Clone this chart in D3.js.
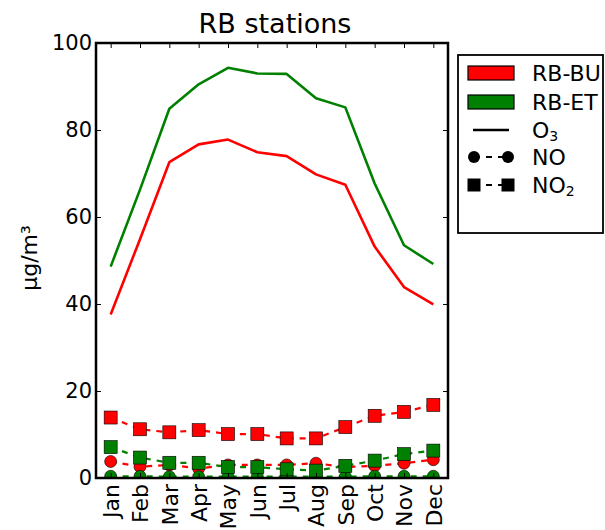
<!DOCTYPE html>
<html>
<head>
<meta charset="utf-8">
<script src="https://cdn.jsdelivr.net/npm/d3@7"></script>
<style>
  html, body { margin: 0; padding: 0; background: #fff; }
  svg { display: block; font-family: "DejaVu Sans", sans-serif; }
</style>
</head>
<body>
<svg id="chart" width="605" height="530"></svg>
<script>
// Monthly mean concentrations at the two RB stations (µg/m³)
const months = ["Jan","Feb","Mar","Apr","May","Jun","Jul","Aug","Sep","Oct","Nov","Dec"];
const yTicks = [0, 20, 40, 60, 80, 100];

const o3BU  = [37.6, 54.9, 72.6, 76.7, 77.8, 74.9, 74.0, 69.8, 67.4, 53.2, 43.9, 39.9];
const o3ET  = [48.6, 66.3, 84.9, 90.5, 94.3, 93.0, 92.9, 87.3, 85.2, 67.7, 53.5, 49.2];
const noBU  = [3.8, 2.6, 3.0, 2.2, 3.0, 3.0, 3.0, 3.4, 2.5, 2.8, 3.4, 4.2];
const noET  = [0.4, 0.4, 0.3, 0.3, 0.3, 0.3, 0.3, 0.3, 0.3, 0.4, 0.4, 0.4];
const no2BU = [13.9, 11.2, 10.5, 11.0, 10.1, 10.1, 9.1, 9.1, 11.7, 14.3, 15.2, 16.8];
const no2ET = [7.1, 4.7, 3.5, 3.5, 2.5, 2.5, 2.0, 1.7, 2.8, 4.0, 5.5, 6.3];

const stations = [
  { name: "RB-BU", color: "#ff0000", o3: o3BU, no: noBU, no2: no2BU },
  { name: "RB-ET", color: "#008000", o3: o3ET, no: noET, no2: no2ET }
];

const plot = { left: 96, right: 448, top: 43, bottom: 478 };
const svg = d3.select("#chart");

const x = d3.scalePoint().domain(months).range([plot.left, plot.right]).padding(0.5);
const y = d3.scaleLinear().domain([0, 100]).range([plot.bottom, plot.top]);

svg.append("defs").append("clipPath").attr("id", "plot-clip")
  .append("rect")
  .attr("x", plot.left).attr("y", plot.top)
  .attr("width", plot.right - plot.left).attr("height", plot.bottom - plot.top);

const g = svg.append("g").attr("clip-path", "url(#plot-clip)");

const line = d3.line().x((d, i) => x(months[i])).y(d => y(d));

stations.forEach(s => {
  // O3: solid line
  g.append("path").attr("d", line(s.o3))
    .attr("fill", "none").attr("stroke", s.color).attr("stroke-width", 2.6)
    .attr("stroke-linejoin", "round");

  // NO: dashed line with circles
  g.append("path").attr("d", line(s.no))
    .attr("fill", "none").attr("stroke", s.color).attr("stroke-width", 2.2)
    .attr("stroke-dasharray", "6,6");
  g.selectAll(null).data(s.no).enter().append("circle")
    .attr("cx", (d, i) => x(months[i])).attr("cy", d => y(d)).attr("r", 6)
    .attr("fill", s.color).attr("stroke", "#000").attr("stroke-width", 0.6);

  // NO2: dashed line with squares
  g.append("path").attr("d", line(s.no2))
    .attr("fill", "none").attr("stroke", s.color).attr("stroke-width", 2.2)
    .attr("stroke-dasharray", "6,6");
  g.selectAll(null).data(s.no2).enter().append("rect")
    .attr("x", (d, i) => x(months[i]) - 6.5).attr("y", d => y(d) - 6.5)
    .attr("width", 13).attr("height", 13)
    .attr("fill", s.color).attr("stroke", "#000").attr("stroke-width", 0.6);
});

// Axes with inward ticks on all four sides
const tickStyle = sel => {
  sel.select(".domain").remove();
  sel.selectAll(".tick line").attr("stroke", "#000").attr("stroke-width", 1);
};

svg.append("g").attr("transform", `translate(${plot.left},0)`)
  .call(d3.axisLeft(y).tickValues(yTicks).tickSize(-5).tickPadding(4))
  .call(tickStyle)
  .selectAll("text").attr("font-size", 21).attr("fill", "#000")
  .attr("font-family", "DejaVu Sans");

svg.append("g").attr("transform", `translate(${plot.right},0)`)
  .call(d3.axisRight(y).tickValues(yTicks).tickSize(-5).tickFormat(""))
  .call(tickStyle);

svg.append("g").attr("transform", `translate(0,${plot.top})`)
  .call(d3.axisTop(x).tickSize(-5).tickFormat(""))
  .call(tickStyle);

svg.append("g").attr("transform", `translate(0,${plot.bottom})`)
  .call(d3.axisBottom(x).tickSize(-5))
  .call(tickStyle)
  .selectAll("text")
  .attr("font-size", 22).attr("fill", "#000").attr("font-family", "DejaVu Sans")
  .attr("transform", "rotate(-90)")
  .attr("text-anchor", "end")
  .attr("x", -6).attr("y", 0).attr("dy", "0.36em");

// Frame
svg.append("rect")
  .attr("x", plot.left).attr("y", plot.top)
  .attr("width", plot.right - plot.left).attr("height", plot.bottom - plot.top)
  .attr("fill", "none").attr("stroke", "#000").attr("stroke-width", 2.5);

// Title
svg.append("text")
  .attr("x", (plot.left + plot.right) / 2 + 3).attr("y", 33)
  .attr("text-anchor", "middle").attr("font-size", 27)
  .text("RB stations");

// Y axis label
svg.append("text")
  .attr("transform", `translate(37,258) rotate(-90)`)
  .attr("text-anchor", "middle").attr("font-size", 22)
  .text("µg/m³");

// Legend
const lg = svg.append("g").attr("transform", "translate(458,55)");
lg.append("rect").attr("width", 145).attr("height", 178)
  .attr("fill", "#fff").attr("stroke", "#000").attr("stroke-width", 1.8);

const rowY = [18, 47, 75, 102, 130];
const symX0 = 12, symX1 = 54, textX = 74;
const legendFont = 22;

stations.forEach((s, i) => {
  lg.append("rect").attr("x", symX0 - 2).attr("y", rowY[i] - 7)
    .attr("width", symX1 - symX0 + 4).attr("height", 14)
    .attr("fill", s.color).attr("stroke", "#000").attr("stroke-width", 1.2);
  lg.append("text").attr("x", textX).attr("y", rowY[i]).attr("dy", "0.36em")
    .attr("font-size", legendFont).text(s.name);
});

// O3 entry
lg.append("line").attr("x1", symX0 + 3).attr("x2", symX1 - 3)
  .attr("y1", rowY[2]).attr("y2", rowY[2])
  .attr("stroke", "#000").attr("stroke-width", 2.6);
const o3t = lg.append("text").attr("x", textX).attr("y", rowY[2]).attr("dy", "0.36em").attr("font-size", legendFont);
o3t.append("tspan").text("O");
o3t.append("tspan").attr("font-size", 14).attr("dy", "0.25em").text("3");

// NO entry
lg.append("line").attr("x1", symX0 + 4).attr("x2", symX1 - 4)
  .attr("y1", rowY[3]).attr("y2", rowY[3])
  .attr("stroke", "#000").attr("stroke-width", 2.2).attr("stroke-dasharray", "6,6");
[symX0 + 4, symX1 - 4].forEach(cx => {
  lg.append("circle").attr("cx", cx).attr("cy", rowY[3]).attr("r", 6).attr("fill", "#000");
});
lg.append("text").attr("x", textX).attr("y", rowY[3]).attr("dy", "0.36em")
  .attr("font-size", legendFont).text("NO");

// NO2 entry
lg.append("line").attr("x1", symX0 + 4).attr("x2", symX1 - 4)
  .attr("y1", rowY[4]).attr("y2", rowY[4])
  .attr("stroke", "#000").attr("stroke-width", 2.2).attr("stroke-dasharray", "6,6");
[symX0 + 4, symX1 - 4].forEach(cx => {
  lg.append("rect").attr("x", cx - 6.5).attr("y", rowY[4] - 6.5)
    .attr("width", 13).attr("height", 13).attr("fill", "#000");
});
const no2t = lg.append("text").attr("x", textX).attr("y", rowY[4]).attr("dy", "0.36em").attr("font-size", legendFont);
no2t.append("tspan").text("NO");
no2t.append("tspan").attr("font-size", 14).attr("dy", "0.25em").text("2");
</script>
</body>
</html>
